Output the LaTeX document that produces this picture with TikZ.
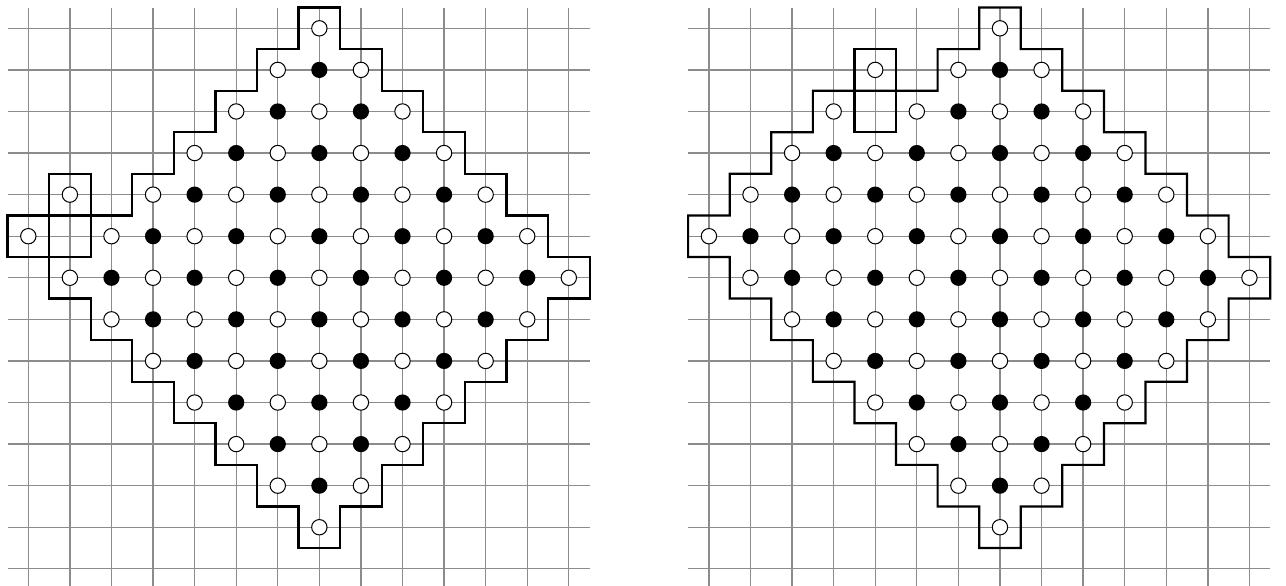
\documentclass[tikz,border=0pt]{standalone}
\begin{document}
\begin{tikzpicture}[
  gridline/.style={black!45, line width=0.9pt},
  outline/.style={black, line width=1.5pt, line join=miter},
  wdot/.style={draw=black, fill=white, line width=0.7pt},
  bdot/.style={fill=black},
]
\newcommand{\pegdot}[2]{%
  \pgfmathtruncatemacro{\pp}{mod(#1+#2,2)}%
  \ifnum\pp=1 \draw[wdot] (#1,-#2) circle (0.185);\else \fill[bdot] (#1,-#2) circle (0.195);\fi}
\newcommand{\diamonddots}{%
  \foreach \r in {0,...,12}{%
    \pgfmathtruncatemacro{\lo}{1+abs(\r-6)}%
    \pgfmathtruncatemacro{\hi}{13-abs(\r-6)}%
    \foreach \c in {\lo,...,\hi}{\pegdot{\c}{\r}}}}
\useasboundingbox (-0.681,0.681) rectangle (30.25,-13.41);
\clip (-0.681,0.681) rectangle (30.25,-13.41);
% grids
\foreach \ox in {0,16.37}{
  \begin{scope}[xshift=\ox cm]
  \foreach \k in {0,...,13}{
    \draw[gridline] (\k,0.5) -- (\k,-13.5);
    \draw[gridline] (-0.5,-\k) -- (13.5,-\k);
  }
  \end{scope}
}
% left figure
\draw[outline] (6.5,0.5) -- ++(1,0)
  \foreach \k in {1,...,6}{ -- ++(0,-1) -- ++(1,0)} -- ++(0,-1)
  \foreach \k in {1,...,6}{ -- ++(-1,0) -- ++(0,-1)} -- ++(-1,0)
  \foreach \k in {1,...,6}{ -- ++(0,1) -- ++(-1,0)} -- ++(0,1)
  \foreach \k in {1,...,5}{ -- ++(1,0) -- ++(0,1)} -- ++(1,0) -- cycle;
\draw[outline] (0.5,-3.5) rectangle (1.5,-5.5);
\draw[outline] (-0.5,-4.5) rectangle (1.5,-5.5);
\diamonddots
\pegdot{1}{4}
\pegdot{0}{5}
% right figure
\begin{scope}[xshift=16.37cm]
\draw[outline] (6.5,0.5) -- ++(1,0)
  \foreach \k in {1,...,6}{ -- ++(0,-1) -- ++(1,0)} -- ++(0,-1)
  \foreach \k in {1,...,6}{ -- ++(-1,0) -- ++(0,-1)} -- ++(-1,0)
  \foreach \k in {1,...,6}{ -- ++(0,1) -- ++(-1,0)} -- ++(0,1)
  -- ++(-1,0) -- ++(0,1) -- ++(1,0) -- ++(0,1) -- ++(1,0) -- ++(0,1)
  -- ++(1,0) -- ++(0,1) -- (5.5,-1.5) -- (5.5,-0.5) -- (6.5,-0.5) -- cycle;
\draw[outline] (3.5,-0.5) rectangle (4.5,-2.5);
\diamonddots
\foreach \c/\r in {0/5,1/5,1/4,2/4,2/3,3/3,3/2,4/1}{\pegdot{\c}{\r}}
\end{scope}
\end{tikzpicture}
\end{document}
